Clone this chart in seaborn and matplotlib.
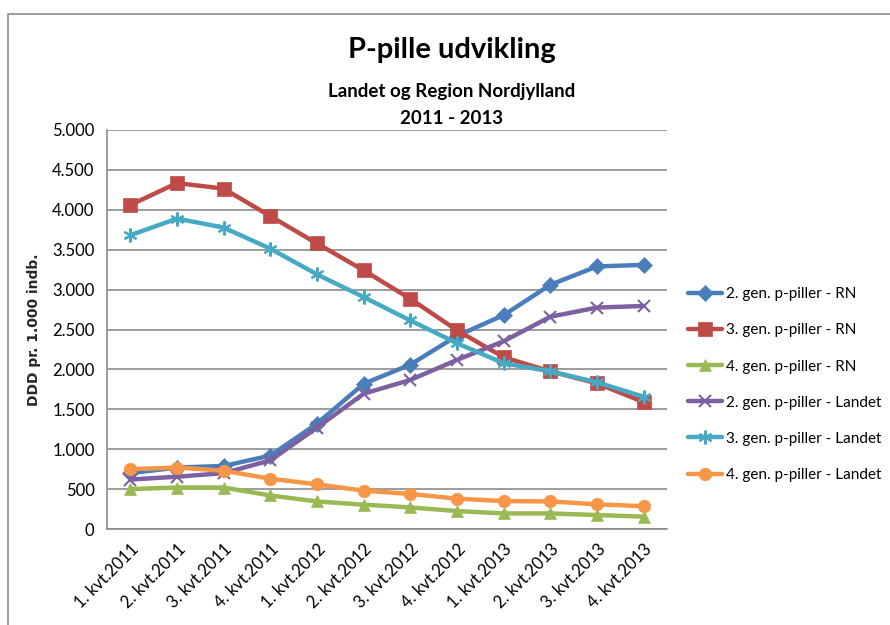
import matplotlib
matplotlib.use("Agg")
import matplotlib.pyplot as plt
import seaborn as sns
import pandas as pd
from matplotlib.lines import Line2D
from matplotlib.patches import Rectangle

categories = ["1. kvt.2011", "2. kvt.2011", "3. kvt.2011", "4. kvt.2011",
              "1. kvt.2012", "2. kvt.2012", "3. kvt.2012", "4. kvt.2012",
              "1. kvt.2013", "2. kvt.2013", "3. kvt.2013", "4. kvt.2013"]

gen2_rn = [700, 770, 790, 920, 1320, 1820, 2060, 2420, 2680, 3060, 3290, 3310]
gen3_rn = [4060, 4335, 4265, 3920, 3578, 3241, 2885, 2490, 2152, 1976, 1825, 1590]
gen4_rn = [500, 520, 520, 420, 345, 305, 270, 225, 195, 195, 175, 155]
gen2_landet = [620, 655, 700, 860, 1270, 1695, 1868, 2119, 2353, 2660, 2775, 2795]
gen3_landet = [3681, 3890, 3777, 3513, 3191, 2906, 2613, 2328, 2077, 1976, 1838, 1658]
gen4_landet = [750, 770, 730, 630, 560, 480, 440, 380, 350, 345, 310, 285]

series_names = ["2. gen. p-piller - RN", "3. gen. p-piller - RN", "4. gen. p-piller - RN",
                "2. gen. p-piller - Landet", "3. gen. p-piller - Landet", "4. gen. p-piller - Landet"]
series_values = [gen2_rn, gen3_rn, gen4_rn, gen2_landet, gen3_landet, gen4_landet]
colors = ["#4A7EBB", "#BE4B48", "#98B954", "#7D60A0", "#46AAC5", "#F79646"]
markers = ["D", "s", "^", "x", (6, 2, 0), "o"]
msizes = [8, 10, 9, 9, 10, 9]

sns.set_style("white")
plt.rcParams['font.family'] = ['Lato', 'DejaVu Sans']
plt.rcParams['text.color'] = 'black'
plt.rcParams['xtick.color'] = 'black'
plt.rcParams['ytick.color'] = 'black'

fig = plt.figure(figsize=(8.9, 6.25), dpi=100)
ax = fig.add_axes([107/890, 1-529/625, 560/890, 399/625])

# outer frame
fig.patches.append(Rectangle((8/890, -0.1), 1.0, 1 - 14/625 + 0.1, transform=fig.transFigure,
                             fill=False, edgecolor="#8C8C8C", linewidth=1.2))

x = list(range(len(categories)))
handles = []
for name, vals, c, m, ms in zip(series_names, series_values, colors, markers, msizes):
    df = pd.DataFrame({"x": x, "y": vals})
    mew = 1.5 if m in ("x",) or isinstance(m, tuple) else 0.5
    sns.lineplot(data=df, x="x", y="y", ax=ax, color=c, linewidth=3.2,
                 marker=m, markersize=ms, markeredgecolor=c, markeredgewidth=mew,
                 markerfacecolor=c, legend=False)
    handles.append(Line2D([0], [0], color=c, linewidth=3.2, marker=m, markersize=ms,
                          markeredgecolor=c, markeredgewidth=mew, markerfacecolor=c))

ax.set_xlim(-0.5, len(categories) - 0.5)
ax.set_ylim(0, 5000)
yt = list(range(0, 5001, 500))
ax.set_yticks(yt)
ax.set_yticklabels([f"{v:,}".replace(",", ".") for v in yt], fontsize=12)
ax.set_xticks(x)
ax.set_xticklabels(categories, rotation=45, ha="right", rotation_mode="anchor", fontsize=12)
ax.tick_params(axis="both", length=0, pad=9)
ax.grid(axis="y", color="#8C8C8C", linewidth=1.2)
ax.set_axisbelow(True)
for s in ["top", "right"]:
    ax.spines[s].set_visible(False)
for s in ["left", "bottom"]:
    ax.spines[s].set_color("#8C8C8C")
    ax.spines[s].set_linewidth(1.2)
ax.set_xlabel("")
ax.set_ylabel("DDD pr. 1.000 indb.", fontsize=10, fontweight="bold", family="DejaVu Sans", labelpad=8)

fig.text(452/890, 1-50/625, "P-pille udvikling", ha="center", va="center", fontsize=21, fontweight="bold")
fig.text(452/890, 1-91/625, "Landet og Region Nordjylland", ha="center", va="center", fontsize=13.5, fontweight="bold")
fig.text(452/890, 1-119/625, "2011 - 2013", ha="center", va="center", fontsize=13.5, fontweight="bold")

leg = fig.legend(handles, series_names, loc="upper left", bbox_to_anchor=(676/890, 1-275/625),
                 frameon=False, fontsize=11, handlelength=2.2, labelspacing=1.45, handletextpad=0.25,
                 borderpad=0.3)

fig.savefig("out.png", dpi=100)
